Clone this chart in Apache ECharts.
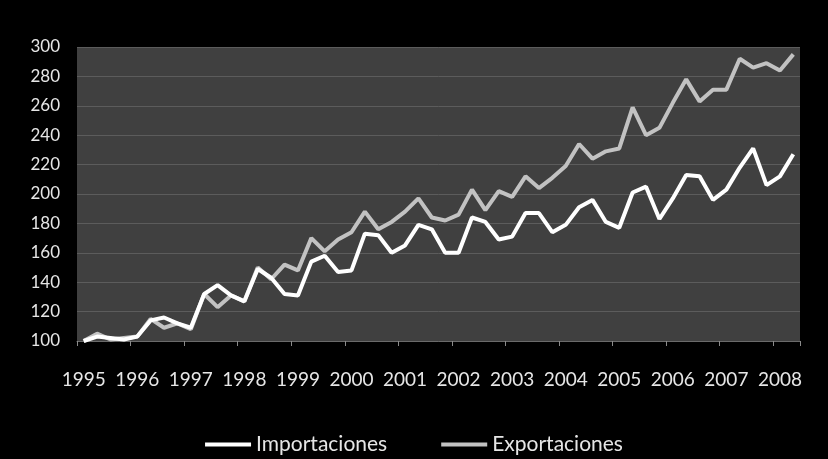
<!DOCTYPE html>
<html>
<head>
<meta charset="utf-8">
<script src="https://cdn.jsdelivr.net/npm/echarts@6/dist/echarts.min.js"></script>
<style>
html,body{margin:0;padding:0;background:#000;}
#chart{width:828px;height:459px;}
</style>
</head>
<body>
<div id="chart"></div>
<script>
// Quarterly data, 1995 T1 – 2008 T2
const years = ['1995','1996','1997','1998','1999','2000','2001','2002','2003','2004','2005','2006','2007','2008'];
const quarters = ['T1','T2','T3','T4'];
const importaciones = [
  100,103,102,101, 103,114,116,112, 109,132,138,131, 127,149,143,132,
  131,154,158,147, 148,173,172,160, 165,179,176,160, 160,184,181,169,
  171,187,187,174, 179,191,196,181, 177,201,205,183, 197,213,212,196,
  203,218,231,206, 212,227
];
const exportaciones = [
  100,105,101,102, 103,115,109,112, 108,132,123,131, 127,150,142,152,
  148,170,161,169, 174,188,176,181, 188,197,184,182, 186,203,189,202,
  198,212,204,211, 219,234,224,229, 231,259,240,245, 262,278,263,271,
  271,292,286,289, 284,295
];
const yTicks = {min:100, max:300, interval:20};

const categories = [];
years.forEach(y => quarters.forEach(q => categories.push(y + ' ' + q)));
categories.length = importaciones.length;

const chart = echarts.init(document.getElementById('chart'), null, {renderer:'canvas'});
const font = 'Lato, "Open Sans", sans-serif';
chart.setOption({
  backgroundColor:'#000',
  animation:false,
  grid:{left:77, right:28, top:47, bottom:118, show:true, backgroundColor:'#404040', borderWidth:0},
  legend:{
    top:429, left:'center',
    icon:'rect', itemWidth:46, itemHeight:4, itemGap:54,
    textStyle:{color:'#e6e6e6', fontFamily:font, fontSize:21},
    data:['Importaciones','Exportaciones']
  },
  xAxis:{
    type:'category', data:categories, boundaryGap:true,
    axisLine:{show:true, lineStyle:{color:'#6a6a6a', width:1}},
    axisTick:{show:true, interval:3, length:5, lineStyle:{color:'#8a8a8a'}},
    axisLabel:{interval:3, color:'#e6e6e6', fontFamily:font, fontSize:19, margin:29,
      formatter: v => v.split(' ')[0]},
    splitLine:{show:false}
  },
  yAxis:{
    type:'value', min:yTicks.min, max:yTicks.max, interval:yTicks.interval,
    axisLine:{show:false}, axisTick:{show:false},
    axisLabel:{color:'#e6e6e6', fontFamily:font, fontSize:17, margin:17},
    splitLine:{show:true, lineStyle:{color:'#5c5c5c', width:1}}
  },
  series:[
    {name:'Importaciones', type:'line', data:importaciones, showSymbol:false, symbol:'none',
      lineStyle:{color:'#ffffff', width:4}, itemStyle:{color:'#ffffff'}, z:3},
    {name:'Exportaciones', type:'line', data:exportaciones, showSymbol:false, symbol:'none',
      lineStyle:{color:'#c2c2c2', width:4}, itemStyle:{color:'#c2c2c2'}, z:2}
  ]
});
</script>
</body>
</html>
